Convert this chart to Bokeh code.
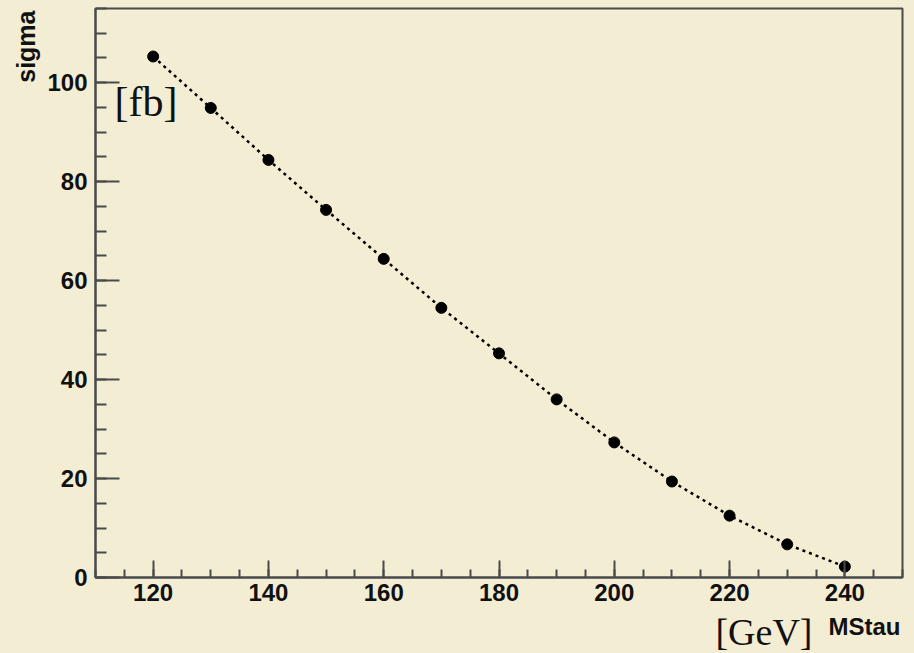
from bokeh.plotting import figure
from bokeh.models import Range1d, SingleIntervalTicker, Label, Title
from bokeh.layouts import column
from bokeh.core.properties import value
from bokeh.embed import file_html
from bokeh.resources import INLINE

# data
mstau = [120, 130, 140, 150, 160, 170, 180, 190, 200, 210, 220, 230, 240]
sigma = [105.3, 94.9, 84.4, 74.3, 64.4, 54.5, 45.3, 36.0, 27.3, 19.4, 12.5, 6.7, 2.2]
x_label = "MStau"
y_label = "sigma"
x_unit = "[GeV]"
y_unit = "[fb]"

BG = "#f3edd4"
INK = "#111111"
FRAME = "#4a4a4a"
W = 914
H1, H2 = 610, 43
BL, BR, BT, BB = 95, 12, 8, 33
X0, X1 = 110, 250
Y0, Y1 = 0, 115

p = figure(width=W, height=H1, output_backend="svg", toolbar_location=None,
           x_range=Range1d(X0, X1), y_range=Range1d(Y0, Y1),
           min_border_left=BL, min_border_right=BR, min_border_top=BT, min_border_bottom=BB)
p.background_fill_color = BG
p.border_fill_color = BG
p.outline_line_color = FRAME
p.outline_line_width = 2
p.xgrid.visible = False
p.ygrid.visible = False

for ax, tin, tmin in ((p.xaxis[0], 17, 8), (p.yaxis[0], 24, 11)):
    ax.ticker = SingleIntervalTicker(interval=20, num_minor_ticks=4)
    ax.axis_line_color = FRAME
    ax.axis_line_width = 2
    ax.major_tick_in = tin
    ax.major_tick_out = 0
    ax.minor_tick_in = tmin
    ax.minor_tick_out = 0
    ax.major_tick_line_color = FRAME
    ax.major_tick_line_width = 2
    ax.minor_tick_line_color = FRAME
    ax.minor_tick_line_width = 2
    ax.major_label_text_font = "Liberation Sans"
    ax.major_label_text_font_style = "bold"
    ax.major_label_text_font_size = "24px"
    ax.major_label_text_color = INK
p.xaxis[0].major_label_standoff = 6
p.yaxis[0].major_label_standoff = 8

p.line(mstau, sigma, line_color="black", line_width=2.5, line_dash="3 4")
p.scatter(mstau, sigma, size=11, marker="circle", fill_color="black", line_color="black")

# y axis title at the top of the left side
p.add_layout(Title(text=y_label, align="right", offset=2, standoff=10,
                   text_font="Liberation Sans", text_font_style="bold",
                   text_font_size="25px", text_color=INK), "left")

# unit label inside the frame, placed in pixel terms via data coords
fw = W - BL - BR
fh = H1 - BT - BB
def dx(px):
    return X0 + (px - BL) / fw * (X1 - X0)
def dy(py):
    return Y0 + (H1 - BB - py) / fh * (Y1 - Y0)

p.add_layout(Label(x=dx(114), y=dy(101), text=y_unit, text_align="left",
                   text_baseline="alphabetic", text_font="Liberation Serif",
                   text_font_size="42px", text_color=INK))

# strip below the chart holding the x-axis title and unit (x in page pixels)
p2 = figure(width=W, height=H2, output_backend="svg", toolbar_location=None,
            title=None, x_range=Range1d(BL, W - BR), y_range=Range1d(H2, 0),
            min_border_left=BL, min_border_right=BR, min_border_top=0, min_border_bottom=0,
            x_axis_location=None, y_axis_location=None,
            styles={"background-color": BG})
p2.background_fill_color = BG
p2.border_fill_color = BG
p2.outline_line_color = None
p2.grid.visible = False
p2.text(x=[812], y=[21.5], text=[x_unit], text_align="right", text_baseline="alphabetic",
        text_font=value("Liberation Serif"), text_font_size="38px", text_color=INK)
p2.text(x=[900], y=[16], text=[x_label], text_align="right", text_baseline="alphabetic",
        text_font=value("Liberation Sans"), text_font_style="bold",
        text_font_size="24px", text_color=INK)

layout = column(p, p2, spacing=0, styles={"background-color": BG})
open("out.html", "w").write(file_html(layout, INLINE))
